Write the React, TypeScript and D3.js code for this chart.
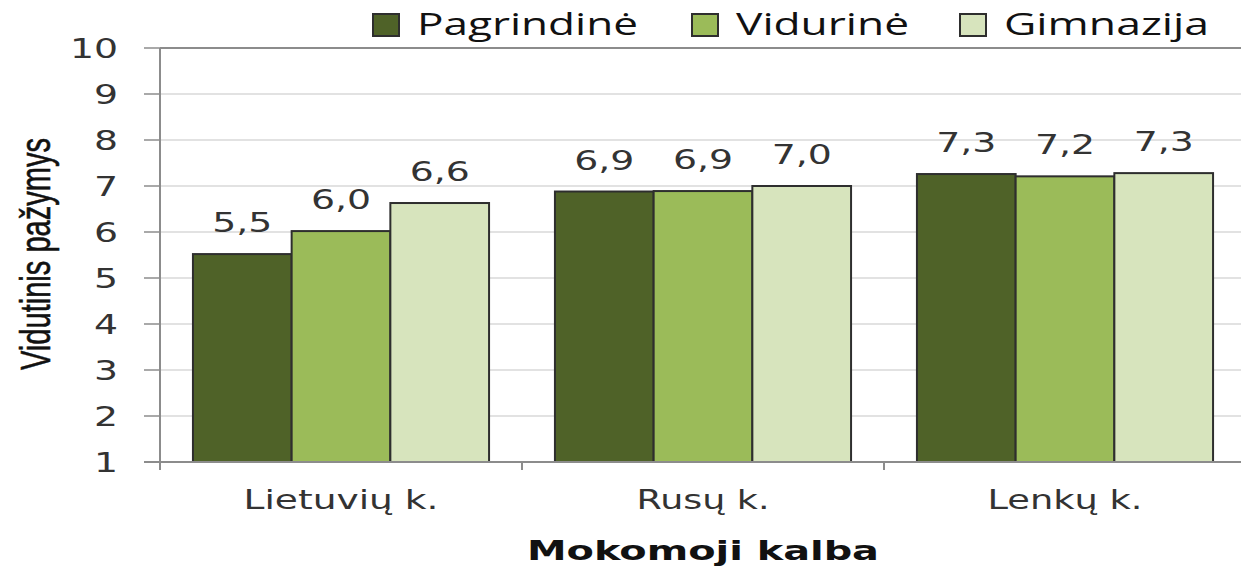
import * as d3 from "d3";

// Average grade by language of instruction and school type
const categories = ["Lietuvių k.", "Rusų k.", "Lenkų k."];
const seriesNames = ["Pagrindinė", "Vidurinė", "Gimnazija"];
const pagrindine = [5.52, 6.88, 7.26];
const vidurine = [6.02, 6.89, 7.21];
const gimnazija = [6.63, 7.0, 7.28];
const yTicks = [1, 2, 3, 4, 5, 6, 7, 8, 9, 10];

const seriesValues = [pagrindine, vidurine, gimnazija];
const colors = ["#4f6228", "#9bbb59", "#d7e4bd"];

// measured widths of stretched labels in the reference
const categoryWidths = [195, 133, 155];
const legendWidths = [221, 173, 205];
const legendX = [373, 692, 960];

const W = 1241;
const H = 566;
const SX = 1.4; // horizontal stretch of the original picture

const numFont = "'DejaVu Sans', Verdana, sans-serif";
const legendFont = "'Open Sans', 'Noto Sans', sans-serif";

export default function App() {
  const x0 = d3
    .scaleBand<string>()
    .domain(categories)
    .range([160, 1246])
    .paddingInner(0.182)
    .paddingOuter(0.091);
  const x1 = d3
    .scaleBand<string>()
    .domain(seriesNames)
    .range([0, x0.bandwidth()]);
  const y = d3.scaleLinear().domain([1, 10]).range([462, 48]);

  const step = x0.step();
  const groupEdges = categories.map((c) => x0(c)! - (step - x0.bandwidth()) / 2);
  const fmt = (v: number) => v.toFixed(1).replace(".", ",");

  return (
    <svg
      width={W}
      height={H}
      style={{ position: "absolute", left: 0, top: 0, background: "#fff" }}
    >
      {/* gridlines */}
      {yTicks.map((t) => (
        <line
          key={"g" + t}
          x1={160}
          x2={1246}
          y1={y(t)}
          y2={y(t)}
          stroke={t === 10 ? "#8c8c8c" : "#d9d9d9"}
          strokeWidth={t === 10 ? 2 : 1.5}
        />
      ))}

      {/* y tick marks + labels */}
      {yTicks.map((t) => (
        <g key={"t" + t}>
          <line x1={144} x2={160} y1={y(t)} y2={y(t)} stroke="#8c8c8c" strokeWidth={1.5} />
          <text
            transform={`translate(118,${y(t) + 10}) scale(${SX},1)`}
            textAnchor="end"
            fontFamily={numFont}
            fontSize={27}
            fill="#333"
          >
            {t}
          </text>
        </g>
      ))}

      {/* bars */}
      {categories.map((c, ci) => (
        <g key={c} transform={`translate(${x0(c)},0)`}>
          {seriesNames.map((s, si) => {
            const v = seriesValues[si][ci];
            const bx = x1(s)!;
            return (
              <g key={s}>
                <rect
                  x={bx}
                  y={y(v)}
                  width={x1.bandwidth()}
                  height={y(1) - y(v)}
                  fill={colors[si]}
                  stroke="#2e2e2e"
                  strokeWidth={2}
                />
                <text
                  transform={`translate(${bx + x1.bandwidth() / 2},${y(v) - 22}) scale(${SX},1)`}
                  textAnchor="middle"
                  fontFamily={numFont}
                  fontSize={27}
                  fill="#333"
                >
                  {fmt(v)}
                </text>
              </g>
            );
          })}
        </g>
      ))}

      {/* axes */}
      <line x1={160} x2={160} y1={48} y2={470} stroke="#8c8c8c" strokeWidth={2} />
      <line x1={144} x2={1246} y1={462} y2={462} stroke="#8c8c8c" strokeWidth={2} />
      {groupEdges.map((gx, i) => (
        <line key={"xt" + i} x1={gx} x2={gx} y1={462} y2={470} stroke="#8c8c8c" strokeWidth={2} />
      ))}

      {/* category labels */}
      {categories.map((c, i) => (
        <text
          key={"c" + c}
          x={x0(c)! + x0.bandwidth() / 2}
          y={509}
          textAnchor="middle"
          fontFamily={numFont}
          fontSize={26}
          fill="#333"
          textLength={categoryWidths[i]}
          lengthAdjust="spacingAndGlyphs"
        >
          {c}
        </text>
      ))}

      {/* axis titles */}
      <text
        x={(160 + 1246) / 2}
        y={560}
        textAnchor="middle"
        fontFamily={numFont}
        fontWeight="bold"
        fontSize={26}
        fill="#111"
        textLength={352}
        lengthAdjust="spacingAndGlyphs"
      >
        Mokomoji kalba
      </text>
      <text
        transform="translate(50,254) rotate(-90)"
        textAnchor="middle"
        fontFamily="'Liberation Sans', Arial, sans-serif"
        fontSize={42}
        fill="#111"
        stroke="#111"
        strokeWidth={0.6}
        textLength={232}
        lengthAdjust="spacingAndGlyphs"
      >
        Vidutinis pažymys
      </text>

      {/* legend */}
      {seriesNames.map((s, i) => (
        <g key={"l" + s}>
          <rect
            x={legendX[i]}
            y={14}
            width={26}
            height={22}
            fill={colors[i]}
            stroke="#2e2e2e"
            strokeWidth={2}
          />
          <text
            x={legendX[i] + 44}
            y={35}
            fontFamily={legendFont}
            fontSize={31}
            fill="#111"
            textLength={legendWidths[i]}
            lengthAdjust="spacingAndGlyphs"
          >
            {s}
          </text>
        </g>
      ))}
    </svg>
  );
}
